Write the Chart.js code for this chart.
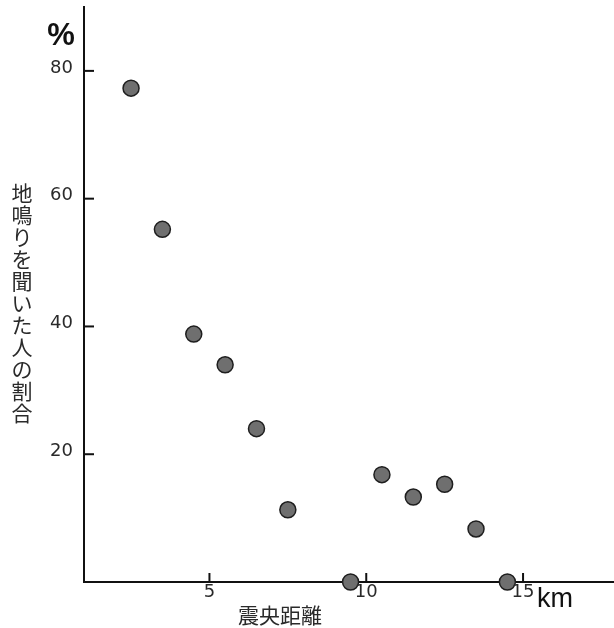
<!DOCTYPE html>
<html>
<head>
<meta charset="utf-8">
<script src="https://cdn.jsdelivr.net/npm/chart.js@4/dist/chart.umd.min.js"></script>
<style>
  html, body { margin: 0; padding: 0; background: #fff; }
  #wrap { width: 614px; height: 628px; position: relative; }
</style>
</head>
<body>
<div id="wrap"><canvas id="c" width="614" height="628"></canvas></div>
<script>
// 震央距離 (km) と 地鳴りを聞いた人の割合 (%)
const distanceKm = [2.5, 3.5, 4.5, 5.5, 6.5, 7.5, 9.5, 10.5, 11.5, 12.5, 13.5, 14.5];
const heardPercent = [77.3, 55.2, 38.8, 34.0, 24.0, 11.3, 0, 16.8, 13.3, 15.3, 8.3, 0];
const xTicks = [5, 10, 15];
const yTicks = [20, 40, 60, 80];
const xTitle = '震央距離';
const yTitle = '地鳴りを聞いた人の割合';
const yUnit = '%';
const xUnit = 'km';

const NUM_FONT = '18px "DejaVu Sans", sans-serif';
const JP_FONT = '21px "Noto Sans CJK JP", sans-serif';
const INK = '#2a2a2a';

// inward tick marks, tick labels, units and axis titles
const decorations = {
  id: 'decorations',
  afterDraw(chart) {
    const ctx = chart.ctx;
    const xs = chart.scales.x, ys = chart.scales.y;
    const area = chart.chartArea;
    ctx.save();
    ctx.strokeStyle = '#111';
    ctx.lineWidth = 2;
    ctx.fillStyle = INK;

    // y ticks point right into the plot
    ctx.font = NUM_FONT;
    ctx.textAlign = 'right';
    ctx.textBaseline = 'middle';
    yTicks.forEach(v => {
      const py = ys.getPixelForValue(v);
      ctx.beginPath();
      ctx.moveTo(area.left, py);
      ctx.lineTo(area.left + 10, py);
      ctx.stroke();
      ctx.fillText(String(v), area.left - 11, py - 3);
    });

    // x ticks point up into the plot
    ctx.textAlign = 'center';
    ctx.textBaseline = 'top';
    xTicks.forEach(v => {
      const px = xs.getPixelForValue(v);
      ctx.beginPath();
      ctx.moveTo(px, area.bottom);
      ctx.lineTo(px, area.bottom - 9);
      ctx.stroke();
      ctx.fillText(String(v), px, area.bottom + 1);
    });

    // units
    ctx.font = 'bold 31px "Liberation Sans", sans-serif';
    ctx.textAlign = 'center';
    ctx.textBaseline = 'alphabetic';
    ctx.fillStyle = '#111';
    ctx.fillText(yUnit, 61, 45);
    ctx.font = '27px "Liberation Sans", sans-serif';
    ctx.textAlign = 'left';
    ctx.fillText(xUnit, 537, 607);

    // axis titles
    ctx.fillStyle = INK;
    ctx.font = JP_FONT;
    ctx.textAlign = 'center';
    ctx.textBaseline = 'middle';
    ctx.fillText(xTitle, 280, 615);
    const chars = Array.from(yTitle);
    chars.forEach((ch, i) => {
      ctx.fillText(ch, 22, 193 + i * 22);
    });
    ctx.restore();
  }
};

new Chart(document.getElementById('c'), {
  type: 'scatter',
  data: {
    datasets: [{
      data: distanceKm.map((x, i) => ({ x, y: heardPercent[i] })),
      pointRadius: 8,
      pointHoverRadius: 8,
      pointBackgroundColor: '#6f6f6f',
      pointBorderColor: '#1e1e1e',
      pointBorderWidth: 1.5,
      clip: false
    }]
  },
  options: {
    responsive: false,
    animation: false,
    events: [],
    layout: { autoPadding: false, padding: { left: 84, top: 7, right: 0, bottom: 46 } },
    plugins: { legend: { display: false }, tooltip: { enabled: false } },
    scales: {
      x: {
        type: 'linear',
        min: 1,
        max: 17.9,
        grid: { display: false, drawTicks: false },
        border: { display: true, color: '#111', width: 2 },
        ticks: { display: false }
      },
      y: {
        type: 'linear',
        min: 0,
        max: 90,
        grid: { display: false, drawTicks: false },
        border: { display: true, color: '#111', width: 2 },
        ticks: { display: false }
      }
    }
  },
  plugins: [decorations]
});
</script>
</body>
</html>
